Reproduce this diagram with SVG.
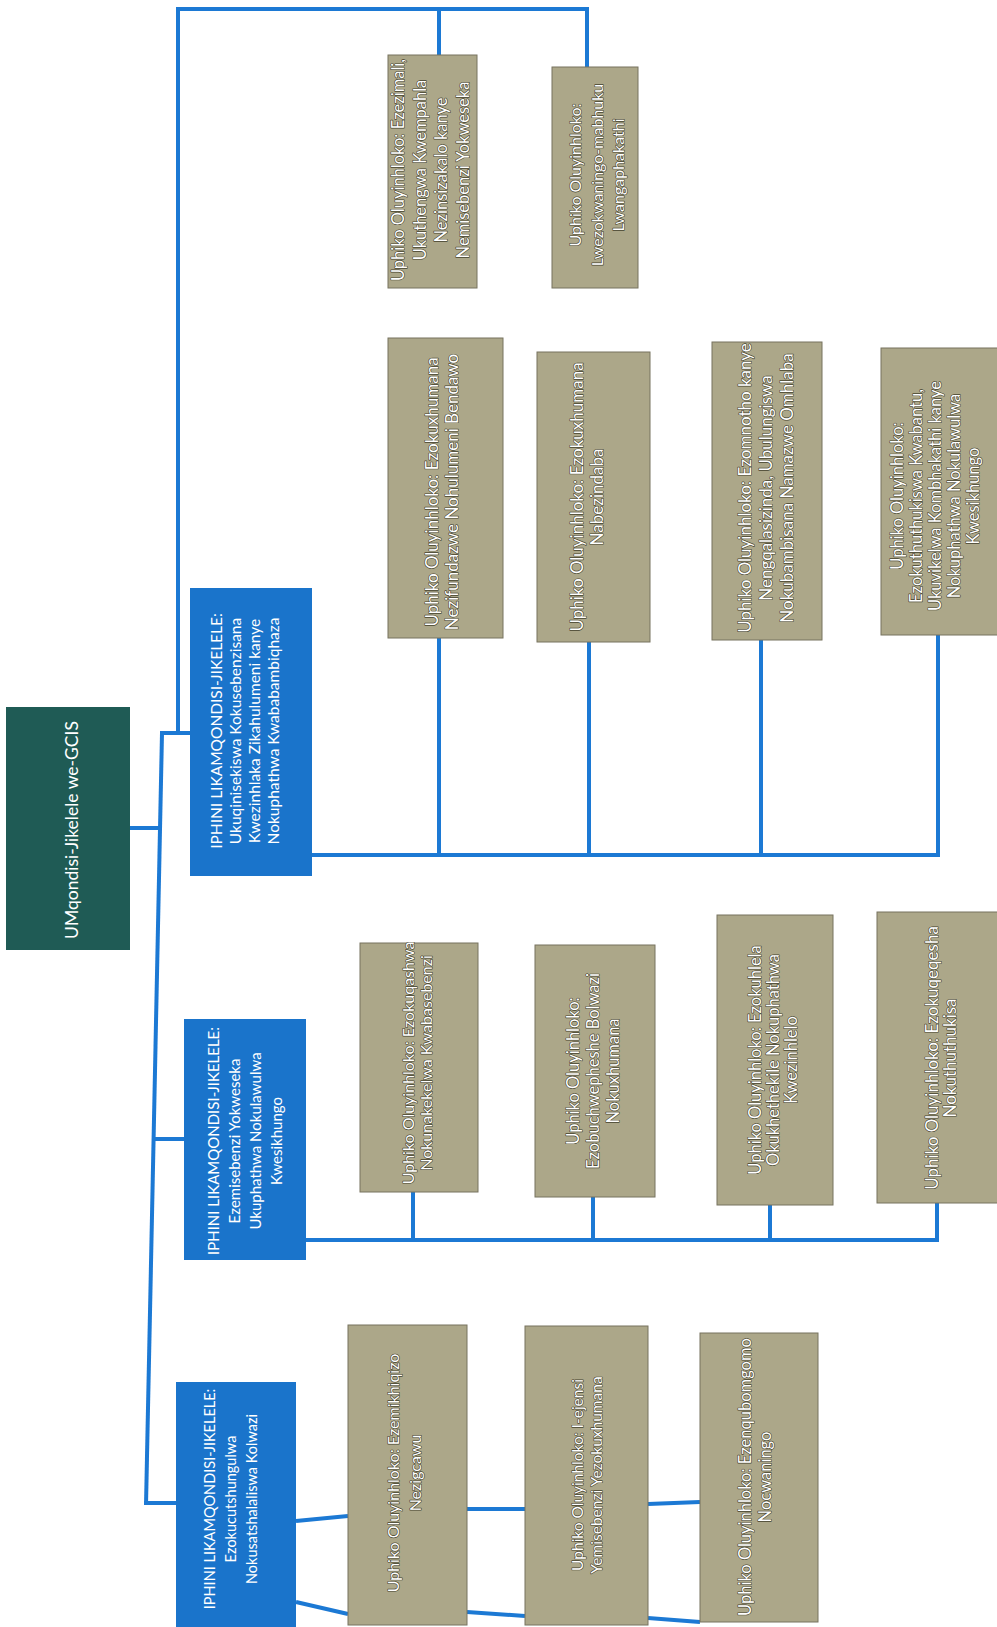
<svg xmlns="http://www.w3.org/2000/svg" width="997" height="1627" viewBox="0 0 997 1627">
<style>
.conn{fill:none;stroke:#1c79d4;stroke-width:4;stroke-linecap:butt;stroke-linejoin:miter}
.gray{fill:#aca789;stroke:#77735f;stroke-width:1}
.blue{fill:#1a74cb}
.root{fill:#1f5b55}
text{font-family:Lato,"Open Sans","Liberation Sans",sans-serif;text-anchor:middle}
.wt{fill:#ffffff}
.gt{fill:#ffffff;stroke:#45432f;stroke-width:1.3;paint-order:stroke;stroke-linejoin:round}
</style>
<rect width="997" height="1627" fill="#ffffff"/>
<g id="connectors">
<path class="conn" d="M130 828 H160"/>
<path class="conn" d="M162 733 L146 1505"/>
<path class="conn" d="M160 733 H190"/>
<path class="conn" d="M152 1139 H184"/>
<path class="conn" d="M144 1503 H176"/>
<path class="conn" d="M178 733 V9 H587 V67"/>
<path class="conn" d="M439 9 V55"/>
<path class="conn" d="M312 855 H940"/>
<path class="conn" d="M439 855 V638 M589 855 V642 M761 855 V640 M938 855 V635"/>
<path class="conn" d="M306 1240 H939"/>
<path class="conn" d="M413 1240 V1192 M593 1240 V1197 M770 1240 V1205 M937 1240 V1203"/>
<path class="conn" d="M296 1521 L348 1516 M296 1602 L348 1614"/>
<path class="conn" d="M467 1509 L525 1509 M467 1612 L525 1616"/>
<path class="conn" d="M648 1504 L700 1502 M648 1618 L700 1622"/>
</g>
<g id="root">
<rect class="root" x="6" y="707" width="124" height="243"/>
<text class="wt" font-size="17.5" transform="rotate(-90)"><tspan x="-830" y="78">UMqondisi-Jikelele we-GCIS</tspan></text>
</g>
<g id="ddg1">
<rect class="blue" x="190" y="588" width="122" height="288"/>
<text class="wt" font-size="15.5" transform="rotate(-90)"><tspan x="-731" y="222.4">IPHINI LIKAMQONDISI-JIKELELE:</tspan><tspan x="-731" y="241.4">Ukuqinisekiswa Kokusebenzisana</tspan><tspan x="-731" y="260.4">Kwezinhlaka Zikahulumeni kanye</tspan><tspan x="-731" y="279.4">Nokuphathwa Kwababambiqhaza</tspan></text>
</g>
<g id="ddg2">
<rect class="blue" x="184" y="1019" width="122" height="241"/>
<text class="wt" font-size="15" transform="rotate(-90)"><tspan x="-1141" y="219.2">IPHINI LIKAMQONDISI-JIKELELE:</tspan><tspan x="-1141" y="240.2">Ezemisebenzi Yokweseka</tspan><tspan x="-1141" y="261.2">Ukuphathwa Nokulawulwa</tspan><tspan x="-1141" y="282.2">Kwesikhungo</tspan></text>
</g>
<g id="ddg3">
<rect class="blue" x="176" y="1382" width="120" height="245"/>
<text class="wt" font-size="14.5" transform="rotate(-90)"><tspan x="-1499" y="215">IPHINI LIKAMQONDISI-JIKELELE:</tspan><tspan x="-1499" y="236">Ezokucutshungulwa</tspan><tspan x="-1499" y="257">Nokusatshalaliswa Kolwazi</tspan></text>
</g>
<g id="cd-finance">
<rect class="gray" x="388" y="55" width="89" height="233" fill="#b2ae8c"/>
<text class="gt" font-size="16.5" transform="rotate(-90)"><tspan x="-170" y="403.8">Uphiko Oluyinhloko: Ezezimali,</tspan><tspan x="-170" y="425.8">Ukuthengwa Kwempahla</tspan><tspan x="-170" y="446.8">Nezinsizakalo kanye</tspan><tspan x="-170" y="468.8">Nemisebenzi Yokweseka</tspan></text>
</g>
<g id="cd-audit">
<rect class="gray" x="552" y="67" width="86" height="221"/>
<text class="gt" font-size="16" transform="rotate(-90)"><tspan x="-175" y="580.6">Uphiko Oluyinhloko:</tspan><tspan x="-175" y="602.6">Lwezokwaningo-mabhuku</tspan><tspan x="-175" y="623.6">Lwangaphakathi</tspan></text>
</g>
<g id="cd-provincial">
<rect class="gray" x="388" y="338" width="115" height="300"/>
<text class="gt" font-size="17" transform="rotate(-90)"><tspan x="-492" y="438">Uphiko Oluyinhloko: Ezokuxhumana</tspan><tspan x="-492" y="458">Nezifundazwe Nohulumeni Bendawo</tspan></text>
</g>
<g id="cd-media">
<rect class="gray" x="537" y="352" width="113" height="290"/>
<text class="gt" font-size="17" transform="rotate(-90)"><tspan x="-497" y="583">Uphiko Oluyinhloko: Ezokuxhumana</tspan><tspan x="-497" y="603">Nabezindaba</tspan></text>
</g>
<g id="cd-economic">
<rect class="gray" x="712" y="342" width="110" height="298"/>
<text class="gt" font-size="17" transform="rotate(-90)"><tspan x="-488" y="751">Uphiko Oluyinhloko: Ezomnotho kanye</tspan><tspan x="-488" y="772">Nengqalasizinda, Ubulungiswa</tspan><tspan x="-488" y="793">Nokubambisana Namazwe Omhlaba</tspan></text>
</g>
<g id="cd-social">
<rect class="gray" x="881" y="348" width="118" height="287"/>
<text class="gt" font-size="16.5" transform="rotate(-90)"><tspan x="-496" y="902.8">Uphiko Oluyinhloko:</tspan><tspan x="-496" y="921.8">Ezokuthuthukiswa Kwabantu,</tspan><tspan x="-496" y="940.8">Ukuvikelwa Kombhakathi kanye</tspan><tspan x="-496" y="959.8">Nokuphathwa Nokulawulwa</tspan><tspan x="-496" y="978.8">Kwesikhungo</tspan></text>
</g>
<g id="cd-hr">
<rect class="gray" x="360" y="943" width="118" height="249" fill="#a7a089"/>
<text class="gt" font-size="16" transform="rotate(-90)"><tspan x="-1063" y="413.6">Uphiko Oluyinhloko: Ezokuqashwa</tspan><tspan x="-1063" y="431.6">Nokunakekelwa Kwabasebenzi</tspan></text>
</g>
<g id="cd-it">
<rect class="gray" x="535" y="945" width="120" height="252" fill="#a7a089"/>
<text class="gt" font-size="16.5" transform="rotate(-90)"><tspan x="-1071" y="578.8">Uphiko Oluyinhloko:</tspan><tspan x="-1071" y="598.8">Ezobuchwepheshe Bolwazi</tspan><tspan x="-1071" y="618.8">Nokuxhumana</tspan></text>
</g>
<g id="cd-projects">
<rect class="gray" x="717" y="915" width="116" height="290" fill="#a7a089"/>
<text class="gt" font-size="16.5" transform="rotate(-90)"><tspan x="-1060" y="760.8">Uphiko Oluyinhloko: Ezokuhlela</tspan><tspan x="-1060" y="778.8">Okukhethekile Nokuphathwa</tspan><tspan x="-1060" y="796.8">Kwezinhlelo</tspan></text>
</g>
<g id="cd-training">
<rect class="gray" x="877" y="912" width="122" height="291" fill="#a7a089"/>
<text class="gt" font-size="17" transform="rotate(-90)"><tspan x="-1058" y="938">Uphiko Oluyinhloko: Ezokuqeqesha</tspan><tspan x="-1058" y="956">Nokuthuthukisa</tspan></text>
</g>
<g id="cd-products">
<rect class="gray" x="348" y="1325" width="119" height="300"/>
<text class="gt" font-size="16" transform="rotate(-90)"><tspan x="-1473" y="398.6">Uphiko Oluyinhloko: Ezemikhiqizo</tspan><tspan x="-1473" y="420.6">Nezigcawu</tspan></text>
</g>
<g id="cd-agency">
<rect class="gray" x="525" y="1326" width="123" height="299"/>
<text class="gt" font-size="15.5" transform="rotate(-90)"><tspan x="-1475" y="583.4">Uphiko Oluyinhloko: I-ejensi</tspan><tspan x="-1475" y="602.4">Yemisebenzi Yezokuxhumana</tspan></text>
</g>
<g id="cd-policy">
<rect class="gray" x="700" y="1333" width="118" height="289"/>
<text class="gt" font-size="16.5" transform="rotate(-90)"><tspan x="-1477" y="750.8">Uphiko Oluyinhloko: Ezenqubomgomo</tspan><tspan x="-1477" y="770.8">Nocwaningo</tspan></text>
</g>
</svg>
